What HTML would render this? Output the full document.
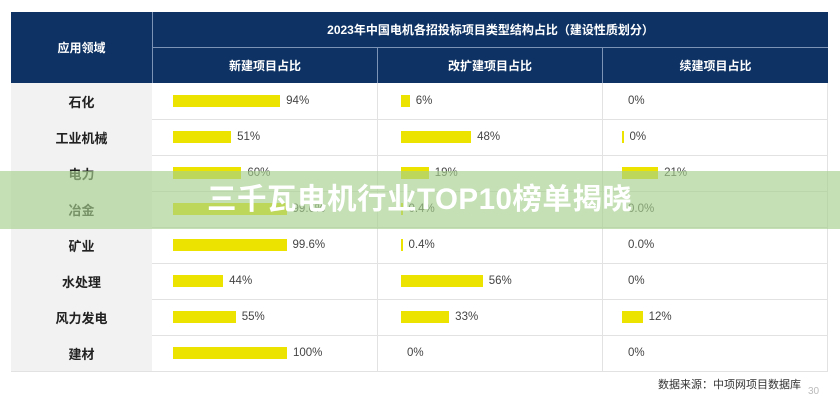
<!DOCTYPE html>
<html><head><meta charset="utf-8"><style>
*{margin:0;padding:0;box-sizing:border-box}
body{width:840px;height:400px;background:#fff;position:relative;overflow:hidden;font-family:"Liberation Sans","Noto Sans CJK SC",sans-serif}
.a{position:absolute}
.hd{background:#0d3263;color:#fff;font-weight:bold;font-size:12px;display:flex;align-items:center;justify-content:center}
.lab{background:#f2f2f2;font-weight:bold;font-size:13px;color:#222;display:flex;align-items:center;justify-content:center;width:141px;left:11px;height:36px}
.bar{background:#ece400;height:12px}
.t{font-size:11.5px;color:#444;line-height:12px}
.hl{height:1px;background:#e2e2e2;left:11px;width:817px}
.vl{width:1px;background:#e2e2e2}
</style></head><body>
<div class="a hd" style="left:11px;top:12px;width:141px;height:71px">应用领域</div>
<div class="a hd" style="left:153px;top:12px;width:675px;height:35px">2023年中国电机各招投标项目类型结构占比（建设性质划分）</div>
<div class="a hd" style="left:153px;top:48px;width:224px;height:35px">新建项目占比</div>
<div class="a hd" style="left:378px;top:48px;width:224px;height:35px">改扩建项目占比</div>
<div class="a hd" style="left:603px;top:48px;width:225px;height:35px">续建项目占比</div>
<div class="a" style="left:152px;top:12px;width:1px;height:71px;background:#7d93b5"></div>
<div class="a" style="left:153px;top:47px;width:675px;height:1px;background:#7d93b5"></div>
<div class="a" style="left:377px;top:47px;width:1px;height:36px;background:#7d93b5"></div>
<div class="a" style="left:602px;top:47px;width:1px;height:36px;background:#7d93b5"></div>
<div class="a vl" style="left:377px;top:83px;height:288px"></div>
<div class="a vl" style="left:602px;top:83px;height:288px"></div>
<div class="a vl" style="left:827px;top:83px;height:288px"></div>
<div id="rows"></div>
<script>
var d=[["石化",94,"94%",6,"6%",0,"0%"],["工业机械",51,"51%",48,"48%",0.5,"0%"],["电力",60,"60%",19,"19%",21,"21%"],["冶金",99.6,"99.6%",0.4,"0.4%",0,"0.0%"],["矿业",99.6,"99.6%",0.4,"0.4%",0,"0.0%"],["水处理",44,"44%",56,"56%",0,"0%"],["风力发电",55,"55%",33,"33%",12,"12%"],["建材",100,"100%",0,"0%",0,"0%"]];
var h="";
d.forEach(function(r,i){var y=83+i*36;
h+='<div class="a lab" style="top:'+y+'px">'+r[0]+'</div>';
h+='<div class="a hl" style="top:'+(y+36)+'px"></div>';
var cols=[[173,1.14,r[1],r[2]],[401,1.46,r[3],r[4]],[622,1.72,r[5],r[6]]];
cols.forEach(function(c){var w=Math.max(c[2]*c[1],c[2]>0?1.5:0);
if(w>0)h+='<div class="a bar" style="left:'+c[0]+'px;top:'+(y+12)+'px;width:'+w+'px"></div>';
h+='<div class="a t" style="left:'+(c[0]+w+6)+'px;top:'+(y+12)+'px">'+c[3]+'</div>';});
});
document.getElementById("rows").innerHTML=h;
</script>
<div class="a" style="left:658px;top:376px;font-size:11px;color:#333">数据来源：中项网项目数据库</div>
<div class="a" style="left:808px;top:386px;font-size:10px;color:#bbb">30</div>
<div class="a" style="left:0;top:171px;width:840px;height:58px;background:rgba(165,208,140,0.65)"></div>
<div class="a" style="left:207px;top:183px;font-size:29.5px;font-weight:bold;color:#fff;line-height:34px;letter-spacing:0.5px">三千瓦电机行业TOP10榜单揭晓</div>
</body></html>
